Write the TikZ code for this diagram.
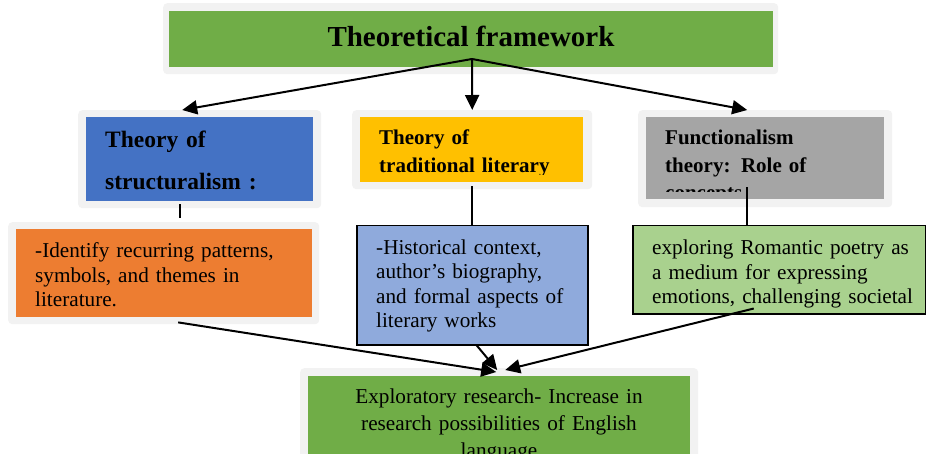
\documentclass[tikz,border=0pt]{standalone}
\usepackage{fontspec}
\setmainfont{Liberation Serif}
\usetikzlibrary{arrows.meta}
\definecolor{framegray}{HTML}{F2F2F2}
\definecolor{headgreen}{HTML}{70AD47}
\definecolor{structblue}{HTML}{4472C4}
\definecolor{tradyellow}{HTML}{FFC000}
\definecolor{funcgray}{HTML}{A5A5A5}
\definecolor{notesorange}{HTML}{ED7D31}
\definecolor{notesblue}{HTML}{8FAADC}
\definecolor{notesgreen}{HTML}{A9D18E}
\newcommand{\headfont}{\fontsize{29}{34}\bfseries\selectfont}
\newcommand{\bigboldfont}{\fontsize{23.5}{42}\bfseries\selectfont}
\newcommand{\boldfont}{\fontsize{21}{27.5}\bfseries\selectfont}
\newcommand{\bodyfont}{\fontsize{21.2}{24.5}\selectfont}
\newcommand{\widebodyfont}{\fontsize{21.2}{27}\selectfont}

\begin{document}
\begin{tikzpicture}[x=1pt,y=-1pt,
    frame/.style = {fill=framegray, rounded corners=4pt, inner sep=0, anchor=north west},
    panel/.style = {inner sep=0, anchor=north west},
    boxed/.style = {panel, draw=black, line width=1.5pt},
    label/.style = {inner sep=0, anchor=base west, align=left},
    link/.style = {line width=2pt},
    arr/.style = {link, -{Triangle[length=15pt,width=14pt]}}]
    \useasboundingbox (0,0) rectangle (926,454);

    \node[frame, minimum width=615, minimum height=71] (headframe) at (163,3) {};
    \node[panel, fill=headgreen, minimum width=604, minimum height=56] (head) at (169,11) {};
    \node[inner sep=0, anchor=base, font=\headfont] (headtext) at (471,47) {Theoretical framework};

    \node[frame, minimum width=243, minimum height=98] (structframe) at (78,110) {};
    \node[panel, fill=structblue, minimum width=227, minimum height=84] (struct) at (86,117) {};
    \node[label, text width=200, font=\bigboldfont] (structtext) at (105,148) {Theory of\\structuralism :};

    \node[frame, minimum width=240, minimum height=79] (tradframe) at (352,110) {};
    \node[panel, fill=tradyellow, minimum width=223, minimum height=65] (trad) at (360,117) {};
    \begin{scope}
        \clip (360,117) rectangle (583,175);
        \node[label, text width=200, font=\boldfont] (tradtext) at (379,145) {Theory of\\traditional literary\\theory};
    \end{scope}

    \node[frame, minimum width=254, minimum height=97] (funcframe) at (638,110) {};
    \node[panel, fill=funcgray, minimum width=238, minimum height=82] (func) at (646,117) {};
    \begin{scope}
        \clip (646,117) rectangle (884,192);
        \node[label, text width=210, font=\boldfont] (functext) at (665,145) {Functionalism\\theory: Role of\\concepts};
    \end{scope}

    \node[frame, minimum width=311, minimum height=102] (patternsframe) at (8,222) {};
    \node[panel, fill=notesorange, minimum width=296, minimum height=88] (patterns) at (16,229) {};
    \node[label, text width=270, font=\bodyfont] (patternstext) at (35,258) {-Identify recurring patterns,\\symbols, and themes in\\literature.};

    \node[boxed, fill=notesblue, minimum width=231, minimum height=119] (context) at (356,225) {};
    \node[label, text width=205, font=\bodyfont] (contexttext) at (376,254.5) {-Historical context,\\author{\char"0027}s biography,\\and formal aspects of\\literary works};

    \node[boxed, fill=notesgreen, minimum width=293, minimum height=88] (poetry) at (632,225) {};
    \begin{scope}
        \clip (632,225) rectangle (926,307);
        \node[label, text width=270, font=\bodyfont] (poetrytext) at (652,255) {exploring Romantic poetry as\\a medium for expressing\\emotions, challenging societal\\norms};
    \end{scope}

    \node[frame, minimum width=398, minimum height=100] (researchframe) at (300,368) {};
    \node[panel, fill=headgreen, minimum width=382, minimum height=92] (research) at (308,376) {};
    \begin{scope}
        \clip (308,376) rectangle (690,454);
        \node[inner sep=0, anchor=base, align=center, text width=380, font=\widebodyfont] (researchtext) at (499,403) {Exploratory research- Increase in\\research possibilities of English\\language};
    \end{scope}

    \coordinate (apex) at (472,59);
    \path[arr]
        (apex) edge ([xshift=-17.5pt]structframe.north)
        (apex) edge (tradframe.north)
        (apex) edge ([xshift=-18pt]funcframe.north);
    \path[link]
        ([xshift=-19.5pt,yshift=4pt]structframe.south) edge ([xshift=-19.5pt,yshift=4pt]structframe.south |- patternsframe.north)
        ([yshift=3pt]tradframe.south) edge (tradframe.south |- context.north)
        ([xshift=-18pt,yshift=20pt]funcframe.south) edge ([xshift=-18pt]funcframe.south |- poetry.north);
    \path[arr]
        ([xshift=14.5pt,yshift=2pt]patternsframe.south) edge ([xshift=-3pt,yshift=-4pt]researchframe.north)
        ([xshift=4.5pt]context.south) edge ([xshift=-2pt,yshift=-2pt]researchframe.north)
        ([xshift=-25.5pt,yshift=6pt]poetry.south) edge ([xshift=6pt,yshift=-2pt]researchframe.north);
\end{tikzpicture}
\end{document}
